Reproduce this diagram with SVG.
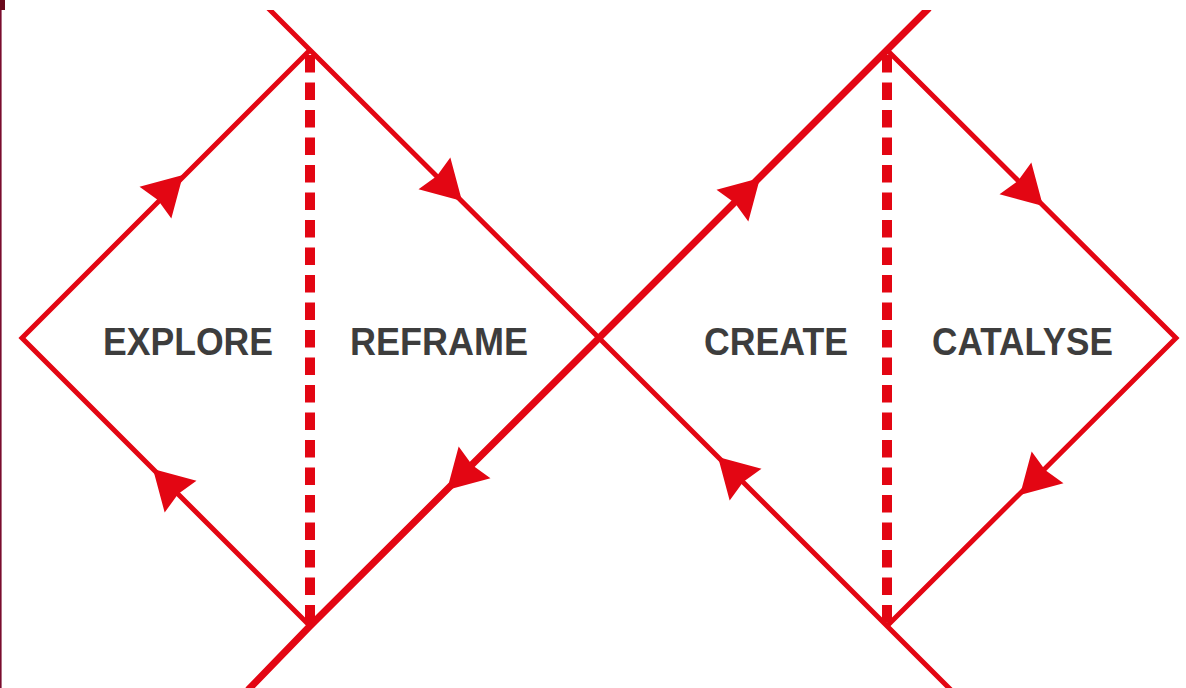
<svg xmlns="http://www.w3.org/2000/svg" width="1186" height="688" viewBox="0 0 1186 688">
  <style>
    .ln { fill: none; stroke: #e30613; stroke-linejoin: miter; stroke-linecap: butt; }
    .thin { stroke-width: 5; }
    .thick { stroke-width: 7; }
    .dash { fill: none; stroke: #e30613; stroke-width: 10; stroke-dasharray: 17.5 10; }
    .ah { fill: #e30613; }
    .lbl { font-family: "Liberation Sans", Arial, Helvetica, sans-serif; font-weight: bold; font-size: 38px; fill: #3d3d3d; text-anchor: middle; }
  </style>
  <defs>
    <clipPath id="clip"><rect x="0" y="10" width="1186" height="678"/></clipPath>
    <path id="arrow" class="ah" d="M0,0 L-39,-22.5 L-35.5,0 L-39,22.5 Z"/>
  </defs>
  <rect x="0" y="0" width="1186" height="688" fill="#ffffff"/>
  <rect x="0" y="0" width="1.6" height="688" fill="#7a0c2e"/>
  <rect x="0" y="0" width="5" height="10" fill="#6a0a1c"/>

  <g id="connectors" clip-path="url(#clip)">
    <path class="ln thin" d="M268,8 L310,50 L599,338 L887,626 L951,690"/>
    <path class="ln thin" d="M310,50 L22,338 L310,626"/>
    <path class="ln thin" d="M887,50 L1176,338 L887,626"/>
    <path class="ln thick" d="M248,690 L310,626 L599,338 L887,50 L929,8"/>
    <path class="dash" d="M310,55 V626"/>
    <path class="dash" d="M887,55 V626"/>
    <use href="#arrow" transform="translate(183,175) rotate(-45)"/>
    <use href="#arrow" transform="translate(462,201) rotate(45)"/>
    <use href="#arrow" transform="translate(447,490) rotate(135)"/>
    <use href="#arrow" transform="translate(153,469) rotate(-135)"/>
    <use href="#arrow" transform="translate(760,178) rotate(-45)"/>
    <use href="#arrow" transform="translate(1043,206) rotate(45)"/>
    <use href="#arrow" transform="translate(1020,495) rotate(135)"/>
    <use href="#arrow" transform="translate(718,457) rotate(-135)"/>
  </g>

  <g id="explore"><text class="lbl" x="188" y="355" textLength="170" lengthAdjust="spacingAndGlyphs">EXPLORE</text></g>
  <g id="reframe"><text class="lbl" x="439" y="355" textLength="178" lengthAdjust="spacingAndGlyphs">REFRAME</text></g>
  <g id="create"><text class="lbl" x="776" y="355" textLength="144" lengthAdjust="spacingAndGlyphs">CREATE</text></g>
  <g id="catalyse"><text class="lbl" x="1022.5" y="355" textLength="181" lengthAdjust="spacingAndGlyphs">CATALYSE</text></g>
</svg>
